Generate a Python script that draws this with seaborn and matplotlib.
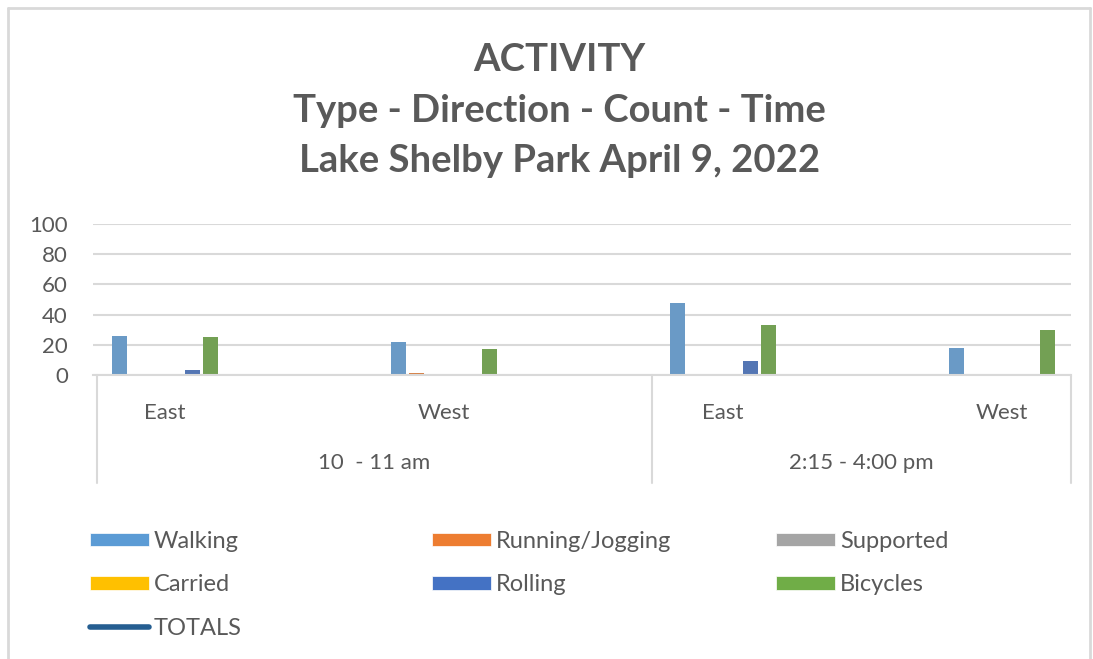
import pandas as pd
import matplotlib.pyplot as plt
import seaborn as sns
from matplotlib.patches import Patch
from matplotlib.lines import Line2D

# Data
periods = ['10  - 11 am', '10  - 11 am', '2:15 - 4:00 pm', '2:15 - 4:00 pm']
directions = ['East', 'West', 'East', 'West']
activity_types = ['Walking', 'Running/Jogging', 'Supported', 'Carried', 'Rolling', 'Bicycles']
walking = [26, 22, 48, 18]
running = [0, 1.5, 0, 0]
supported = [0, 0, 0, 0]
carried = [0, 0, 0, 0]
rolling = [3, 0, 9, 0]
bicycles = [25, 17, 33, 30]
y_ticks = [0, 20, 40, 60, 80, 100]

colors = ['#5B9BD5', '#ED7D31', '#A5A5A5', '#FFC000', '#4472C4', '#70AD47']
totals_color = '#255E91'
text_color = '#595959'
grid_color = '#D9D9D9'

# Long-format table for seaborn
keys = [f"{p}|{d}" for p, d in zip(periods, directions)]
series = [walking, running, supported, carried, rolling, bicycles]
rows = []
for name, vals in zip(activity_types, series):
    for k, v in zip(keys, vals):
        rows.append({'key': k, 'type': name, 'count': v})
df = pd.DataFrame(rows)

sns.set_theme(style='white')
plt.rcParams['font.family'] = ['Lato', 'DejaVu Sans']

fig = plt.figure(figsize=(10.93, 6.59), dpi=100)
ax = fig.add_axes([93 / 1093, 1 - 375 / 659, 978 / 1093, 151 / 659])

sns.barplot(data=df, x='key', y='count', hue='type', order=keys,
            hue_order=activity_types, palette=colors, width=0.391, gap=0.2,
            linewidth=0, legend=False, ax=ax)

ax.set_xlim(-0.258, 3.247)
ax.set_ylim(0, 100)
ax.set_yticks(y_ticks)
ax.set_yticklabels([str(t) for t in y_ticks], fontsize=16, color=text_color)
ax.set_xticks(range(len(keys)))
ax.set_xticklabels(directions, fontsize=16, color=text_color)
ax.tick_params(axis='y', length=0, pad=18)
ax.tick_params(axis='x', length=0, pad=20)
ax.set_xlabel('')
ax.set_ylabel('')
for s in ['top', 'right', 'left']:
    ax.spines[s].set_visible(False)
ax.spines['bottom'].set_color(grid_color)
ax.spines['bottom'].set_linewidth(1.5)
ax.yaxis.grid(True, color=grid_color, linewidth=1.5)
ax.set_axisbelow(True)

# Multi-level category axis: dividers and period labels
dividers = [0.004, 0.5716, 1.0]
for xd in dividers:
    ax.plot([xd, xd], [0, -0.715], transform=ax.transAxes, color=grid_color,
            linewidth=1.5, clip_on=False)
group_names = [periods[0], periods[2]]
for i, name in enumerate(group_names):
    xm = (dividers[i] + dividers[i + 1]) / 2
    ax.text(xm, -0.583, name, transform=ax.transAxes, ha='center', va='center',
            fontsize=16, color=text_color)

# Title
title_lines = ['ACTIVITY', 'Type - Direction - Count - Time', 'Lake Shelby Park April 9, 2022']
for line, ypx in zip(title_lines, [60, 111, 161]):
    fig.text(559.5 / 1093, 1 - ypx / 659, line, ha='center', va='center',
             fontsize=27.5, fontweight='bold', color=text_color)

# Legend: three columns placed separately
col_items = [
    [('Walking', 0), ('Carried', 3), ('TOTALS', None)],
    [('Running/Jogging', 1), ('Rolling', 4)],
    [('Supported', 2), ('Bicycles', 5)],
]
col_x = [90, 432, 776]
for cx, items in zip(col_x, col_items):
    handles = []
    labels = []
    for label, idx in items:
        if idx is None:
            handles.append(Line2D([0], [0], color=totals_color, linewidth=4,
                                  solid_capstyle='round'))
        else:
            handles.append(Patch(facecolor=colors[idx], edgecolor='white', linewidth=0.5))
        labels.append(label)
    leg = fig.legend(handles, labels, loc='upper left',
                     bbox_to_anchor=(cx / 1093, 1 - 531 / 659),
                     frameon=False, fontsize=17, handlelength=2.5,
                     handleheight=0.5, handletextpad=0.2, labelspacing=0.95,
                     borderpad=0, borderaxespad=0)
    for t in leg.get_texts():
        t.set_color(text_color)

# Chart border
border = dict(color=grid_color, linewidth=2, transform=fig.transFigure)
fig.add_artist(Line2D([8 / 1093, 8 / 1093], [0, 1 - 8 / 659], **border))
fig.add_artist(Line2D([8 / 1093, 1090 / 1093], [1 - 8 / 659, 1 - 8 / 659], **border))
fig.add_artist(Line2D([1090 / 1093, 1090 / 1093], [0, 1 - 8 / 659], **border))

fig.savefig('out.png', dpi=100)
plt.close(fig)
